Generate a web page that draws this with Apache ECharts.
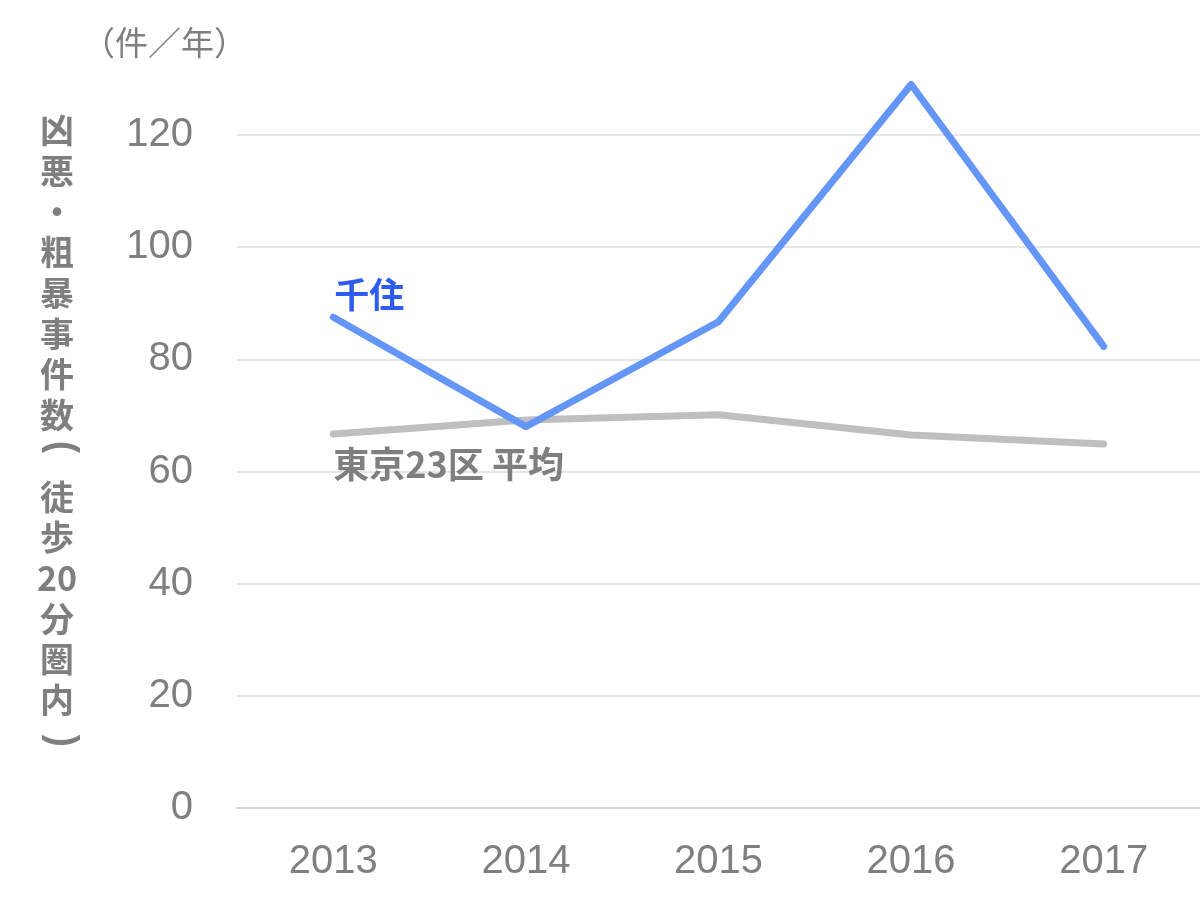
<!DOCTYPE html>
<html><head><meta charset="utf-8">
<script src="https://cdn.jsdelivr.net/npm/echarts@6/dist/echarts.min.js"></script>
<style>html,body{margin:0;padding:0;background:#fff}#c{width:1200px;height:901px}</style>
</head><body><div id="c"></div>
<script>
const years = ['2013','2014','2015','2016','2017'];
const senju = [87.5, 68, 86.7, 129, 82.3];
const tokyoAvg = [66.7, 69.2, 70.1, 66.5, 64.9];
const yTicks = [0, 20, 40, 60, 80, 100, 120];
const seriesNames = ['千住', '東京23区 平均'];
const yTitleSlots = ['凶','悪','・','粗','暴','事','件','数','(','徒','歩','20','分','圏','内',')'];
const unitText = '（件／年）';

const chart = echarts.init(document.getElementById('c'));
const gray = '#7f7f7f';
const titleTop = 110, slotH = 40.7, titleX = 57;
const titleGraphics = yTitleSlots.map((ch, i) => {
  const paren = ch === '(' || ch === ')';
  return {
    type: 'text', x: titleX + (paren ? 4 : 0), y: titleTop + slotH * (i + 0.5) + (ch === '(' ? -9 : 0),
    rotation: paren ? -Math.PI / 2 : 0,
    scaleY: paren ? 1.15 : 1,
    style: {text: ch, fill: gray,
      font: paren ? 'bold 36px "Liberation Sans"' : 'bold 34px "Noto Sans CJK JP"',
      align: 'center', verticalAlign: 'middle'}
  };
});
chart.setOption({
  animation: false,
  grid: {left: 237, right: 0, top: 135, bottom: 93},
  graphic: [
    {type: 'text', left: 82, top: 26, style: {text: unitText, fill: gray, font: '33px "Noto Sans CJK JP"'}}
  ].concat(titleGraphics),
  xAxis: {
    type: 'category', data: years, boundaryGap: true,
    axisLine: {lineStyle: {color: '#d4d4d4', width: 2}},
    axisTick: {show: false},
    axisLabel: {color: gray, fontSize: 40, fontFamily: 'Liberation Sans', margin: 34}
  },
  yAxis: {
    type: 'value', min: yTicks[0], max: yTicks[yTicks.length - 1], interval: yTicks[1] - yTicks[0],
    axisLine: {show: false}, axisTick: {show: false},
    splitLine: {lineStyle: {color: '#e6e6e6', width: 2}},
    axisLabel: {color: gray, fontSize: 40, fontFamily: 'Liberation Sans', margin: 44}
  },
  series: [
    {
      name: seriesNames[0], type: 'line', clip: false, symbol: 'circle', symbolSize: 0.1, showSymbol: true,
      itemStyle: {color: '#6496f8'},
      lineStyle: {color: '#6496f8', width: 7, cap: 'round', join: 'round'},
      data: senju.map((v, i) => i === 0 ? {value: v, label: {show: true, formatter: seriesNames[0], position: 'top', align: 'left', offset: [1, 0], color: '#2f5cf0', fontWeight: 'bold', fontSize: 35, fontFamily: 'Noto Sans CJK JP'}} : v),
      z: 3
    },
    {
      name: seriesNames[1], type: 'line', clip: false, symbol: 'circle', symbolSize: 0.1, showSymbol: true,
      itemStyle: {color: '#bfbfbf'},
      lineStyle: {color: '#bfbfbf', width: 7, cap: 'round', join: 'round'},
      data: tokyoAvg.map((v, i) => i === 0 ? {value: v, label: {show: true, formatter: seriesNames[1], position: 'bottom', align: 'left', offset: [0, 7], color: gray, fontWeight: 'bold', fontSize: 36, fontFamily: 'Noto Sans CJK JP'}} : v),
      z: 2
    }
  ]
});
</script></body></html>
